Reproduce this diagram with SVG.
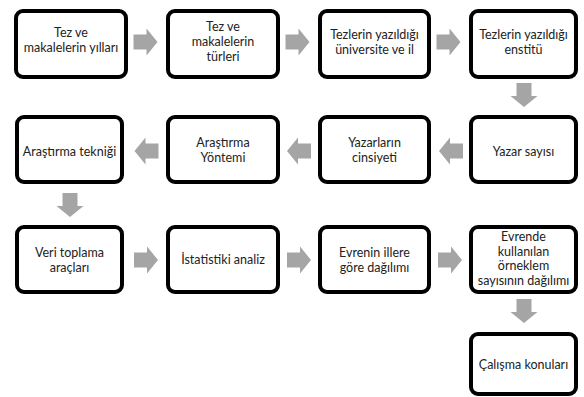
<svg xmlns="http://www.w3.org/2000/svg" xmlns:xlink="http://www.w3.org/1999/xlink" width="584" height="397" viewBox="0 0 584 397">
<defs>
<style>
.box{fill:#fff;stroke:#000;stroke-width:4}
.t{font-family:Lato,"Liberation Sans",sans-serif;font-size:12.5px;fill:#222;text-anchor:middle}
.arr{fill:#A5A5A5}
</style>
<path id="ar" class="arr" d="M-12,-7.5 H1 V-13.5 L12,0 L1,13.5 V7.5 H-12 Z"/>
</defs>
<rect width="584" height="397" fill="#fff"/>
<g id="connectors">
<use xlink:href="#ar" transform="translate(145.5,42)"/>
<use xlink:href="#ar" transform="translate(297.5,42)"/>
<use xlink:href="#ar" transform="translate(448.5,42)"/>
<use xlink:href="#ar" transform="translate(524,95) rotate(90)"/>
<use xlink:href="#ar" transform="translate(451,151) rotate(180)"/>
<use xlink:href="#ar" transform="translate(299,151) rotate(180)"/>
<use xlink:href="#ar" transform="translate(146.5,151) rotate(180)"/>
<use xlink:href="#ar" transform="translate(70,205) rotate(90)"/>
<use xlink:href="#ar" transform="translate(146,260)"/>
<use xlink:href="#ar" transform="translate(299,260)"/>
<use xlink:href="#ar" transform="translate(450,260)"/>
<use xlink:href="#ar" transform="translate(524,311) rotate(90)"/>
</g>
<g id="n1"><rect class="box" x="16" y="11" width="110" height="66" rx="7"/>
<text class="t" x="71" y="37">Tez ve</text><text class="t" x="71" y="52">makalelerin yılları</text></g>
<g id="n2"><rect class="box" x="168" y="11" width="110" height="66" rx="7"/>
<text class="t" x="223" y="31">Tez ve</text><text class="t" x="223" y="46">makalelerin</text><text class="t" x="223" y="61">türleri</text></g>
<g id="n3"><rect class="box" x="320" y="11" width="109" height="66" rx="7"/>
<text class="t" x="374.5" y="39">Tezlerin yazıldığı</text><text class="t" x="374.5" y="54">üniversite ve il</text></g>
<g id="n4"><rect class="box" x="471" y="11" width="105" height="66" rx="7"/>
<text class="t" x="523.5" y="39">Tezlerin yazıldığı</text><text class="t" x="523.5" y="54">enstitü</text></g>
<g id="n5"><rect class="box" x="471" y="117" width="105" height="65" rx="7"/>
<text class="t" x="523.5" y="156">Yazar sayısı</text></g>
<g id="n6"><rect class="box" x="320" y="117" width="109" height="65" rx="7"/>
<text class="t" x="374.5" y="147">Yazarların</text><text class="t" x="374.5" y="162">cinsiyeti</text></g>
<g id="n7"><rect class="box" x="168" y="117" width="110" height="65" rx="7"/>
<text class="t" x="223" y="147">Araştırma</text><text class="t" x="223" y="162">Yöntemi</text></g>
<g id="n8"><rect class="box" x="17" y="117" width="105" height="65" rx="7"/>
<text class="t" x="69.5" y="156">Araştırma tekniği</text></g>
<g id="n9"><rect class="box" x="17" y="227" width="105" height="65" rx="7"/>
<text class="t" x="69.5" y="257">Veri toplama</text><text class="t" x="69.5" y="272">araçları</text></g>
<g id="n10"><rect class="box" x="168" y="227" width="110" height="65" rx="7"/>
<text class="t" x="223" y="264">İstatistiki analiz</text></g>
<g id="n11"><rect class="box" x="320" y="227" width="109" height="65" rx="7"/>
<text class="t" x="374.5" y="257">Evrenin illere</text><text class="t" x="374.5" y="272">göre dağılımı</text></g>
<g id="n12"><rect class="box" x="471" y="227" width="105" height="65" rx="7"/>
<text class="t" x="523.5" y="241">Evrende</text><text class="t" x="523.5" y="255.5">kullanılan</text><text class="t" x="523.5" y="270">örneklem</text><text class="t" x="523.5" y="284.5">sayısının dağılımı</text></g>
<g id="n13"><rect class="box" x="471" y="334" width="105" height="60" rx="7"/>
<text class="t" x="523.5" y="369">Çalışma konuları</text></g>
</svg>
